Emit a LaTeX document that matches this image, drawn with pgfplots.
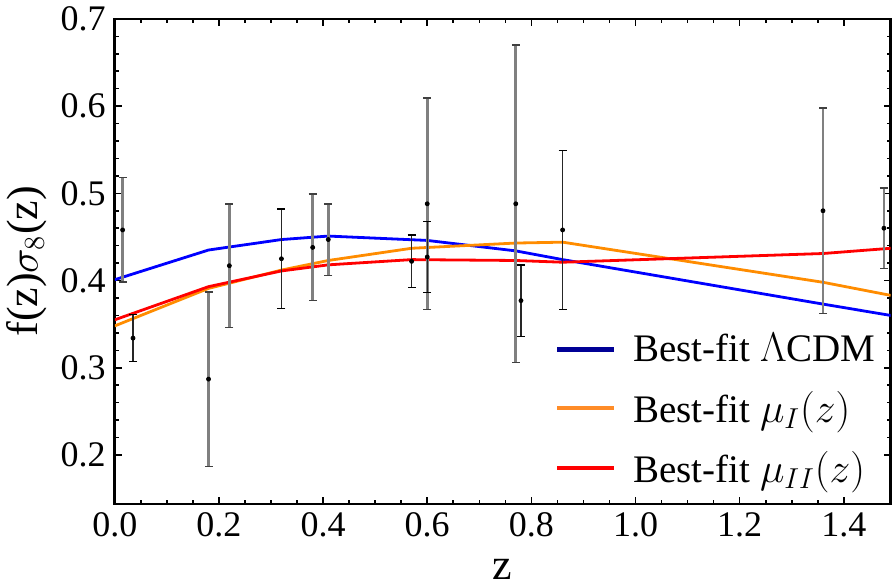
\documentclass[border=0pt]{standalone}
\usepackage{pgfplots}
\pgfplotsset{compat=1.18}
\usepackage{pgfplotstable}
\usepackage{fontspec}
\setmainfont{Liberation Serif}

\definecolor{cblue}{RGB}{0,0,255}
\definecolor{corange}{RGB}{255,140,0}
\definecolor{cred}{RGB}{255,0,0}
\definecolor{lblue}{RGB}{0,0,150}
\definecolor{lorange}{RGB}{255,140,40}

% data with error bars, thick grey ones
\pgfplotstableread{
z      f      e
0.015  0.458  0.060
0.18   0.287  0.100
0.22   0.417  0.071
0.38   0.438  0.061
0.41   0.447  0.041
0.60   0.488  0.121
0.77   0.488  0.182
1.36   0.480  0.118
1.477  0.460  0.046
}\greydata
% thin black ones
\pgfplotstableread{
z      f      e
0.035  0.334  0.027
0.32   0.425  0.057
0.57   0.422  0.030
0.60   0.427  0.041
0.78   0.377  0.041
0.86   0.458  0.091
}\blackdata

\begin{document}
\begin{tikzpicture}
\begin{axis}[
    scale only axis,
    width=388pt, height=242.5pt,
    xmin=0, xmax=1.49,
    ymin=0.144, ymax=0.7,
    xtick={0,0.2,...,1.4},
    ytick={0.2,0.3,...,0.7},
    minor x tick num=3,
    minor y tick num=4,
    tick align=inside,
    major tick length=3.5pt,
    minor tick length=2pt,
    every tick/.style={black, line width=0.8pt},
    axis line style={line width=1.3pt},
    tick label style={font=\fontsize{18}{20}\selectfont},
    /pgf/number format/.cd, fixed, fixed zerofill, precision=1, assume math mode=true,
    /pgfplots/.cd,
    xticklabel style={yshift=-1pt},
    yticklabel style={xshift=-1pt},
    xlabel={z},
    ylabel={f(z)$\sigma_8$(z)},
    label style={font=\fontsize{22}{24}\selectfont},
    xlabel style={yshift=-4pt},
    legend cell align=left,
    legend style={at={(0.567,0.36)}, anchor=north west, draw=none, fill=none,
      inner sep=0pt, row sep=9pt, font=\fontsize{19.5}{21}\selectfont},
    legend image code/.code={
      \draw[#1, line width=2.2pt] (0pt,0pt) -- (28.5pt,0pt);
      \path[draw=none] (0pt,0pt) -- (36pt,0pt);
    },
]
\addplot[cblue, line width=1.4pt, forget plot] coordinates {
(0,0.401) (0.18,0.435) (0.32,0.447) (0.41,0.451) (0.6,0.446)
(0.77,0.434) (0.86,0.424) (1.36,0.373) (1.49,0.360)};
\addplot[corange, line width=1.4pt, forget plot] coordinates {
(0,0.348) (0.18,0.391) (0.32,0.412) (0.41,0.423) (0.57,0.437)
(0.77,0.443) (0.86,0.444) (1.36,0.398) (1.49,0.383)};
\addplot[cred, line width=1.4pt, forget plot] coordinates {
(0,0.355) (0.18,0.393) (0.32,0.411) (0.41,0.418) (0.57,0.424)
(0.77,0.423) (0.86,0.421) (1.36,0.431) (1.49,0.437)};

\addplot[only marks, mark=*, mark size=1pt, black, forget plot,
  error bars/.cd, y dir=both, y explicit,
  error bar style={line width=1.4pt, black!50},
  error mark options={rotate=90, mark size=2pt, line width=0.8pt, black!75}]
  table[x=z, y=f, y error=e] {\greydata};
\addplot[only marks, mark=*, mark size=1pt, black, forget plot,
  error bars/.cd, y dir=both, y explicit,
  error bar style={line width=0.7pt, black!85},
  error mark options={rotate=90, mark size=2pt, line width=0.7pt, black}]
  table[x=z, y=f, y error=e] {\blackdata};

\addlegendimage{lblue}
\addlegendentry{Best-fit $\Lambda$CDM}
\addlegendimage{lorange}
\addlegendentry{Best-fit $\mu_I(z)$}
\addlegendimage{cred}
\addlegendentry{Best-fit $\mu_{II}(z)$}
\end{axis}
\end{tikzpicture}
\end{document}
